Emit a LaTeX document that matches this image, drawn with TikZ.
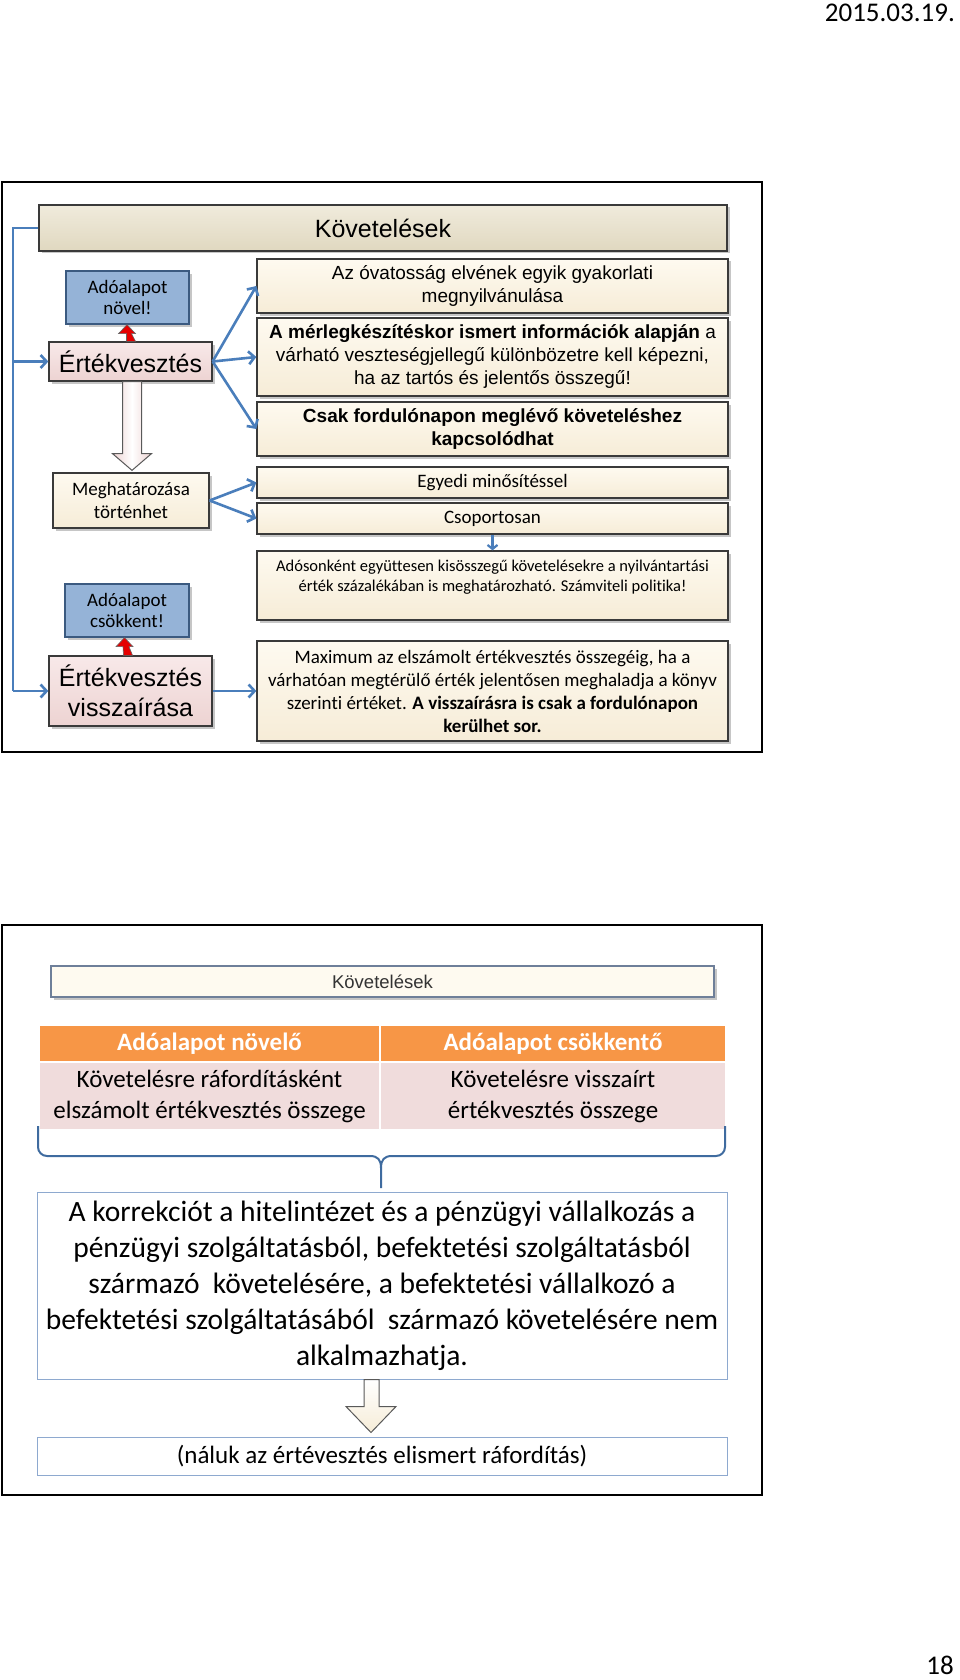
\documentclass[tikz,border=0pt]{standalone}
\usepackage{fontspec}
\setmainfont{Carlito}[Ligatures=NoCommon]
\newfontfamily\arialf{Liberation Sans}
\usetikzlibrary{arrows.meta,shadows,calc}
\definecolor{boxline}{HTML}{3A3A3A}
\definecolor{creamT}{HTML}{FEFAF0}
\definecolor{creamB}{HTML}{F6ECD7}
\definecolor{hdrT}{HTML}{F0EBDC}
\definecolor{hdrB}{HTML}{E0D8C0}
\definecolor{pinkT}{HTML}{F8E9E9}
\definecolor{pinkB}{HTML}{EDD3D2}
\definecolor{blueF}{HTML}{95B3D7}
\definecolor{blueL}{HTML}{3B5A80}
\definecolor{arrowB}{HTML}{4A7EBB}
\definecolor{orangeF}{HTML}{F79646}
\definecolor{pinkRow}{HTML}{F0DCDC}
\definecolor{korrL}{HTML}{8EA9CF}
\definecolor{k2line}{HTML}{6E7F99}
\begin{document}
\begin{tikzpicture}[x=1pt,y=-1pt,
  shad/.style={drop shadow={shadow xshift=2.5pt,shadow yshift=-2.5pt,opacity=0.45}},
  box/.style={draw=boxline, line width=1.3pt, inner sep=0pt, align=center, shad},
  cream/.style={box, top color=creamT, bottom color=creamB},
  hdrbox/.style={box, top color=hdrT, bottom color=hdrB},
  pinkbox/.style={box, top color=pinkT, bottom color=pinkB},
  bluebox/.style={box, draw=blueL, fill=blueF},
  arialS/.style={font=\arialf\fontsize{19}{23}\selectfont},
  calS/.style={font=\fontsize{19}{22}\selectfont},
  flow/.style={draw=arrowB, line width=2.6pt, -{Straight Barb[length=6pt,width=13pt]}},
  flowline/.style={draw=arrowB, line width=2.6pt},
  redarrow/.style={fill=red!90!black, draw=gray!80!black, line width=0.6pt},
  hollow/.style={draw=gray!70!black, line width=1pt, left color=pinkB, right color=pinkB, middle color=white},
  hollow2/.style={draw=gray!70!black, line width=1pt, top color=white, bottom color=creamB},
  frame/.style={draw=black, line width=2pt},
  cell/.style={draw=white, line width=1.5pt, inner sep=0pt, align=center, font=\fontsize{25}{31}\selectfont},
  plain/.style={draw=korrL, line width=1pt, fill=white, inner sep=0pt, align=center}
]
\useasboundingbox (0,0) rectangle (960,1680);

% page header / footer
\node[anchor=east, inner sep=0pt, font=\fontsize{27}{32}\selectfont] (date) at (955,13) {2015.03.19.};
\node[anchor=east, inner sep=0pt, font=\fontsize{27}{32}\selectfont] (pnum) at (954,1665) {18};

% ================= slide 1 =================
\draw[frame] (2,182) rectangle (762,752);

\node[hdrbox, minimum width=688pt, minimum height=46pt, font=\arialf\fontsize{25}{30}\selectfont] (hdr) at (383,228) {Követelések};

\node[bluebox, minimum width=123pt, minimum height=53pt, font=\fontsize{19}{21}\selectfont] (novel) at (127.5,297.5) {Adóalapot\\növel!};
\node[pinkbox, minimum width=163pt, minimum height=39pt, font=\arialf\fontsize{25}{30}\selectfont] (ert) at (130.5,361.5) {Értékvesztés};
\node[cream, minimum width=156pt, minimum height=55pt, font=\fontsize{19}{23}\selectfont] (megh) at (131,500.5) {Meghatározása\\történhet};
\node[bluebox, minimum width=124pt, minimum height=53pt, font=\fontsize{19}{21}\selectfont] (csokk) at (127,610.5) {Adóalapot\\csökkent!};
\node[pinkbox, minimum width=163pt, minimum height=70pt, font=\arialf\fontsize{25}{30}\selectfont] (vissza) at (130.5,691) {Értékvesztés\\visszaírása};

\node[cream, minimum width=471pt, minimum height=54pt, arialS] (b1) at (492.5,286) {Az óvatosság elvének egyik gyakorlati\\megnyilvánulása};
\node[cream, minimum width=471pt, minimum height=78pt, arialS] (b2) at (492.5,357) {\textbf{A mérlegkészítéskor ismert információk alapján} a\\várható veszteségjellegű különbözetre kell képezni,\\ha az tartós és jelentős összegű!};
\node[cream, minimum width=471pt, minimum height=54pt, arialS] (b3) at (492.5,429) {\textbf{Csak fordulónapon meglévő követeléshez}\\\textbf{kapcsolódhat}};
\node[cream, minimum width=471pt, minimum height=31pt, calS] (b4) at (492.5,482.5) {Egyedi minősítéssel};
\node[cream, minimum width=471pt, minimum height=31pt, calS] (b5) at (492.5,518.5) {Csoportosan};
\node[cream, minimum width=471pt, minimum height=69pt, font=\fontsize{16.5}{20}\selectfont] (b6) at (492.5,585.5) {Adósonként együttesen kisösszegű követelésekre a nyilvántartási\\érték százalékában is meghatározható. Számviteli politika!\\\mbox{}};
\node[cream, minimum width=471pt, minimum height=100pt, font=\fontsize{19}{23}\selectfont] (b7) at (492.5,691) {Maximum az elszámolt értékvesztés összegéig, ha a\\várhatóan megtérülő érték jelentősen meghaladja a könyv\\szerinti értéket. \textbf{A visszaírásra is csak a fordulónapon}\\\textbf{kerülhet sor.}};

% left feedback line
\coordinate (lx) at (13,228);
\draw[flowline] (hdr.west) -- (lx) -- (lx |- vissza.west);
\draw[flow] (lx |- ert.west) -- (ert.west);
\draw[flow] (lx |- vissza.west) -- (vissza.west);

% fan-out arrows
\draw[flow] (ert.east) -- (b1.west);
\draw[flow] (ert.east) -- (b2.west);
\draw[flow] (ert.east) -- (b3.west);
\draw[flow] (megh.east) -- (b4.west);
\draw[flow] (megh.east) -- (b5.west);
\draw[flow] (vissza.east) -- (b7.west);
\draw[draw=arrowB, line width=2.2pt, -{Straight Barb[length=4pt,width=10pt]}] (b5.south) -- (b6.north);

% red up arrows
\draw[redarrow] ($(ert.north)+(-4,0)$) -- ($(novel.south)+(-1,9)$) -- ($(novel.south)+(-9,9)$) -- ($(novel.south)+(-0.5,0)$) -- ($(novel.south)+(8,9)$) -- ($(novel.south)+(4,9)$) -- ($(ert.north)+(5,0)$) -- cycle;
\draw[redarrow] ($(vissza.north)+(-7,0)$) -- ($(csokk.south)+(-4,9)$) -- ($(csokk.south)+(-11,9)$) -- ($(csokk.south)+(-2.5,0)$) -- ($(csokk.south)+(6,9)$) -- ($(csokk.south)+(2,9)$) -- ($(vissza.north)+(2,0)$) -- cycle;

% hollow arrow Értékvesztés -> Meghatározása
\draw[hollow] ($(ert.south)+(-8,0)$) -- ($(ert.south)+(-8,72)$) -- ($(ert.south)+(-18,72)$) -- ($(megh.north)+(1,-2)$) -- ($(ert.south)+(21,72)$) -- ($(ert.south)+(11,72)$) -- ($(ert.south)+(11,0)$) -- cycle;

% ================= slide 2 =================
\draw[frame] (2,925) rectangle (762,1495);

\node[draw=k2line, line width=1.2pt, fill=creamT, inner sep=0pt, minimum width=663pt, minimum height=31pt, shad, text=black!80, font=\arialf\fontsize{18.5}{22}\selectfont] (k2) at (382.5,981.5) {Követelések};

\node[cell, fill=orangeF, text=white, minimum width=341pt, minimum height=37pt, font=\bfseries\fontsize{25}{31}\selectfont] (o1) at (209.5,1043.5) {Adóalapot növelő};
\node[cell, fill=orangeF, text=white, minimum width=346pt, minimum height=37pt, font=\bfseries\fontsize{25}{31}\selectfont] (o2) at (553,1043.5) {Adóalapot csökkentő};
\node[cell, fill=pinkRow, minimum width=341pt, minimum height=68pt] (p1) at (209.5,1096) {Követelésre ráfordításként\\elszámolt értékvesztés összege};
\node[cell, fill=pinkRow, minimum width=346pt, minimum height=68pt] (p2) at (553,1096) {Követelésre visszaírt\\értékvesztés összege};

% brace
\coordinate (bl) at (38,1126);
\coordinate (br) at (725,1126);
\coordinate (bt) at (381,1188);
\draw[draw=arrowB!85!black, line width=2pt, rounded corners=9pt] (bl) -- (38,1156) -- (370,1156);
\draw[draw=arrowB!85!black, line width=2pt] (370,1156) .. controls (378,1156) and (381,1160) .. (381,1168) -- (bt);
\draw[draw=arrowB!85!black, line width=2pt, rounded corners=9pt] (br) -- (725,1156) -- (392,1156);
\draw[draw=arrowB!85!black, line width=2pt] (392,1156) .. controls (384,1156) and (381,1160) .. (381,1168);

\node[plain, minimum width=690pt, minimum height=187pt, font=\fontsize{29.5}{36}\selectfont] (korr) at (382,1285.5) {A korrekciót a hitelintézet és a pénzügyi vállalkozás a\\pénzügyi szolgáltatásból, befektetési szolgáltatásból\\származó\ \ követelésére, a befektetési vállalkozó a\\befektetési szolgáltatásából\ \ származó követelésére nem\\alkalmazhatja.};
\node[plain, minimum width=690pt, minimum height=38pt, font=\fontsize{25}{30}\selectfont] (naluk) at (382,1456) {(náluk az értévesztés elismert ráfordítás)};

% hollow arrow korr -> naluk
\draw[hollow2] ($(korr.south)+(-18,0)$) -- ($(korr.south)+(-18,27)$) -- ($(korr.south)+(-36,27)$) -- ($(naluk.north)+(-11,-4)$) -- ($(korr.south)+(14,27)$) -- ($(korr.south)+(-3,27)$) -- ($(korr.south)+(-3,0)$) -- cycle;
\end{tikzpicture}
\end{document}
